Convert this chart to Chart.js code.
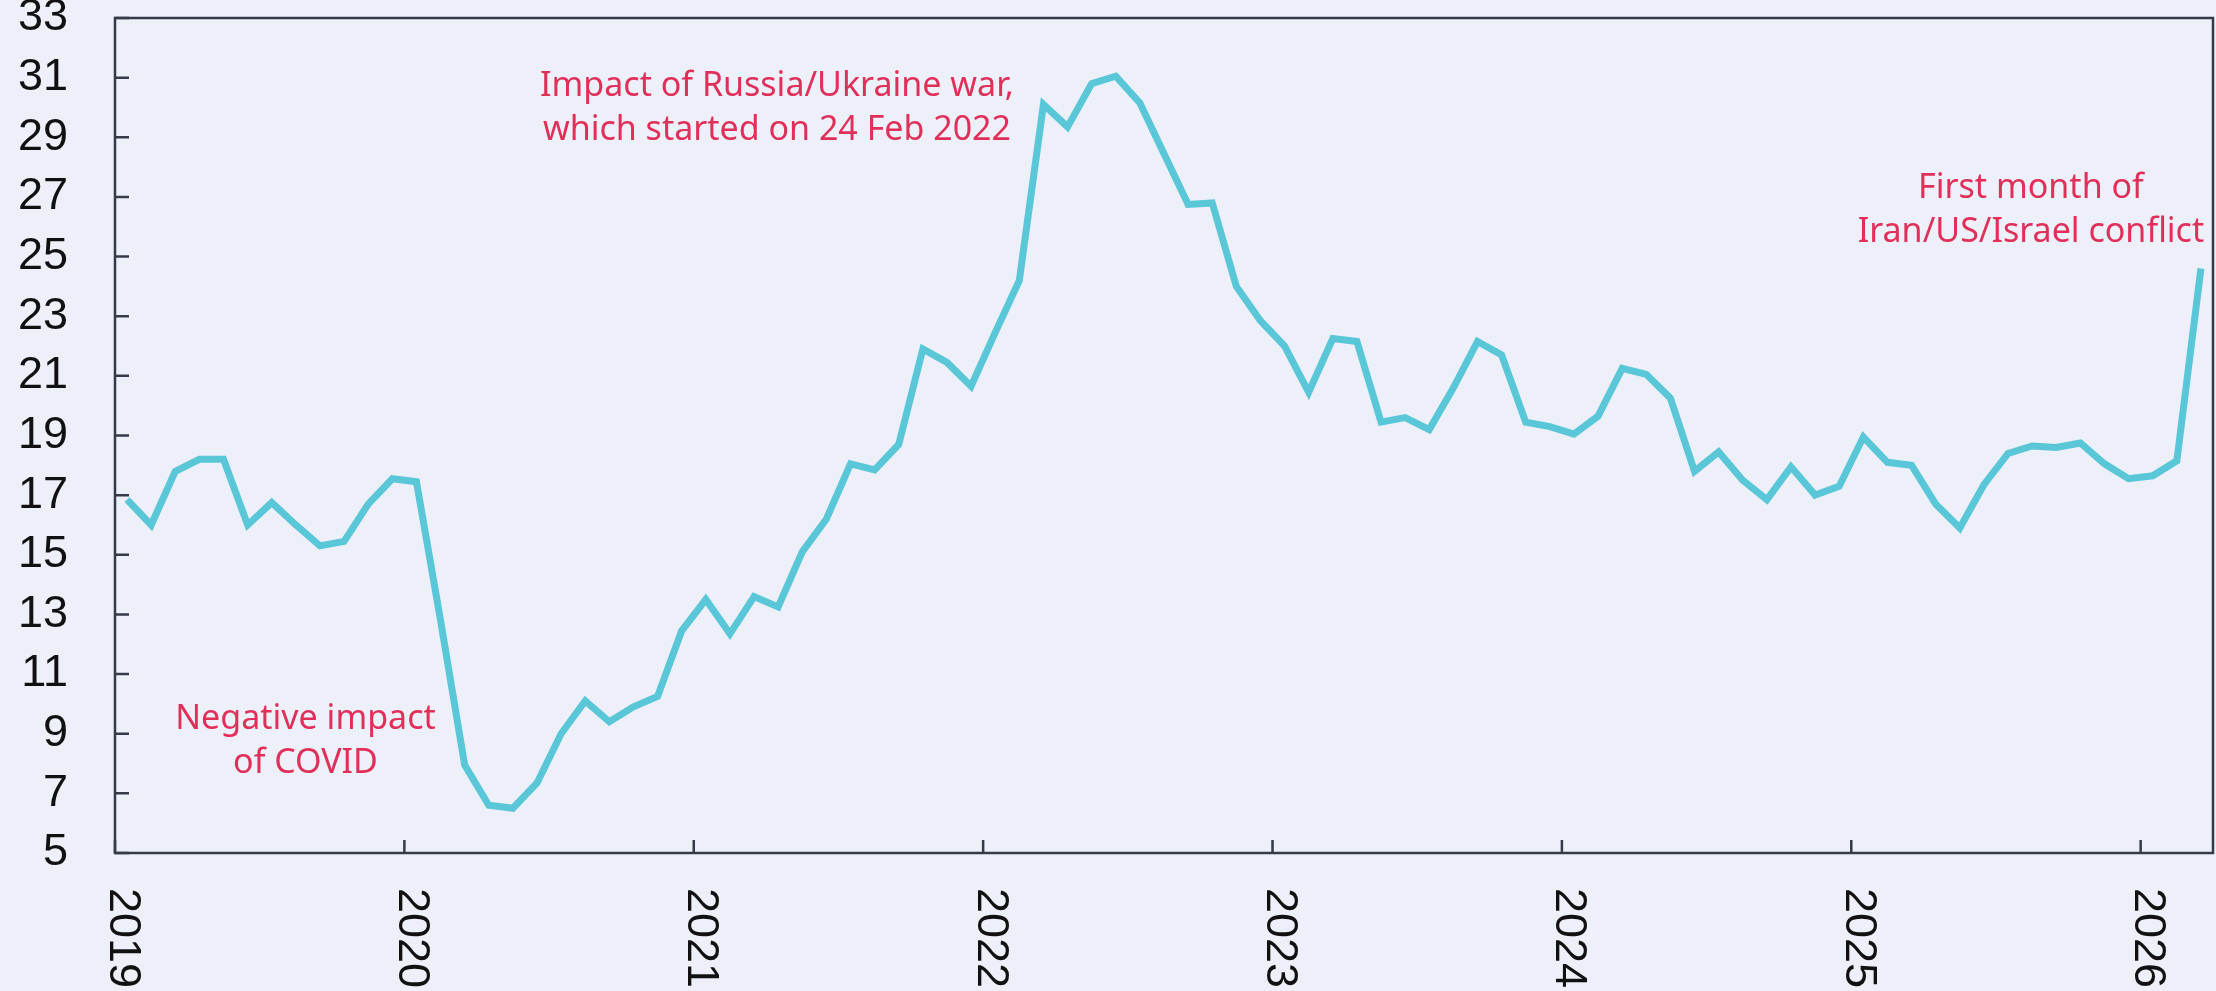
<!DOCTYPE html>
<html lang="en">
<head>
<meta charset="utf-8">
<title>Monthly index, 2019-2026</title>
<script src="https://cdn.jsdelivr.net/npm/chart.js@4.4.1/dist/chart.umd.min.js"></script>
<style>
  html, body { margin: 0; padding: 0; background: #edf0f9; }
  #wrap { width: 2216px; height: 991px; position: relative; }
</style>
</head>
<body>
<div id="wrap"><canvas id="chart"></canvas></div>
<script>
// Monthly values, one array per year
const values2019 = [16.85, 16.0, 17.8, 18.2, 18.2, 16.0, 16.75, 16.0, 15.3, 15.45, 16.7, 17.55];
const values2020 = [17.45, 12.8, 7.95, 6.6, 6.5, 7.35, 9.0, 10.1, 9.4, 9.9, 10.25, 12.45];
const values2021 = [13.5, 12.35, 13.6, 13.25, 15.1, 16.2, 18.05, 17.85, 18.7, 21.9, 21.45, 20.65];
const values2022 = [22.45, 24.2, 30.1, 29.35, 30.8, 31.05, 30.15, 28.45, 26.75, 26.8, 24.0, 22.85];
const values2023 = [22.0, 20.45, 22.25, 22.15, 19.45, 19.6, 19.2, 20.6, 22.15, 21.7, 19.45, 19.3];
const values2024 = [19.05, 19.65, 21.25, 21.05, 20.25, 17.8, 18.45, 17.5, 16.85, 17.95, 17.0, 17.3];
const values2025 = [18.95, 18.1, 18.0, 16.7, 15.9, 17.35, 18.4, 18.65, 18.6, 18.75, 18.05, 17.55];
const values2026 = [17.65, 18.15, 24.6];

const yearLabels = ['2019', '2020', '2021', '2022', '2023', '2024', '2025', '2026'];
const monthNames = ['Jan', 'Feb', 'Mar', 'Apr', 'May', 'Jun', 'Jul', 'Aug', 'Sep', 'Oct', 'Nov', 'Dec'];
const yMin = 5;
const yMax = 33;
const yStep = 2;

const seriesValues = [].concat(values2019, values2020, values2021, values2022,
  values2023, values2024, values2025, values2026);
const categories = seriesValues.map((v, i) => monthNames[i % 12] + ' ' + yearLabels[Math.floor(i / 12)]);

// Text notes, placed in data units (category index, value of first baseline)
const notes = [
  { lines: ['Impact of Russia/Ukraine war,', 'which started on 24 Feb 2022'], at: 26.95, value: 30.4 },
  { lines: ['First month of', 'Iran/US/Israel conflict'], at: 78.95, value: 26.95 },
  { lines: ['Negative impact', 'of COVID'], at: 7.4, value: 9.15 }
];

const AXIS_COLOR = '#343a48';
const LINE_COLOR = '#59c7d7';
const NOTE_COLOR = '#e0305a';
const LABEL_FONT = '"Liberation Sans", Arial, sans-serif';

// Box frame, inward tick marks, rotated year labels and the notes
const framePlugin = {
  id: 'frame',
  afterDraw(chart) {
    const { ctx, chartArea: a, scales: { x, y } } = chart;
    ctx.save();
    ctx.strokeStyle = AXIS_COLOR;
    ctx.lineWidth = 2.5;
    ctx.strokeRect(a.left, a.top, a.right - a.left, a.bottom - a.top);

    ctx.beginPath();
    y.ticks.forEach((t) => {
      const py = y.getPixelForValue(t.value);
      ctx.moveTo(a.left, py);
      ctx.lineTo(a.left + 14, py);
    });
    yearLabels.forEach((lab, k) => {
      const px = x.getPixelForValue(k * 12 - 0.5);
      ctx.moveTo(px, a.bottom);
      ctx.lineTo(px, a.bottom - 13);
    });
    ctx.stroke();

    ctx.fillStyle = '#111111';
    ctx.font = '45px ' + LABEL_FONT;
    ctx.textAlign = 'left';
    ctx.textBaseline = 'middle';
    yearLabels.forEach((lab, k) => {
      const px = x.getPixelForValue(k * 12 - 0.5);
      ctx.save();
      ctx.translate(px + 7, a.bottom + 35);
      ctx.rotate(Math.PI / 2);
      ctx.fillText(lab, 0, 0);
      ctx.restore();
    });

    ctx.fillStyle = NOTE_COLOR;
    ctx.font = '34px "Noto Sans", sans-serif';
    ctx.textAlign = 'center';
    ctx.textBaseline = 'alphabetic';
    notes.forEach((n) => {
      const px = x.getPixelForValue(n.at);
      const py = y.getPixelForValue(n.value);
      n.lines.forEach((line, i) => ctx.fillText(line, px, py + i * 44));
    });
    ctx.restore();
  }
};

new Chart(document.getElementById('chart'), {
  type: 'line',
  data: {
    labels: categories,
    datasets: [{
      data: seriesValues,
      borderColor: LINE_COLOR,
      borderWidth: 7,
      pointRadius: 0,
      tension: 0,
      fill: false
    }]
  },
  options: {
    responsive: true,
    maintainAspectRatio: false,
    animation: false,
    layout: { padding: { top: 18, right: 3, bottom: 0, left: 0 } },
    plugins: {
      legend: { display: false },
      tooltip: { enabled: false }
    },
    scales: {
      x: {
        type: 'category',
        offset: true,
        ticks: { display: false },
        grid: { display: false, drawTicks: false },
        border: { display: false },
        afterFit: (s) => { s.height = 138; }
      },
      y: {
        min: yMin,
        max: yMax,
        ticks: {
          stepSize: yStep,
          padding: 0,
          color: '#111111',
          font: { family: LABEL_FONT, size: 45, lineHeight: 0.78 }
        },
        // tick marks are drawn inward by the plugin; this length only sets the label gap
        grid: { display: false, drawTicks: true, tickLength: 47 },
        border: { display: false },
        afterFit: (s) => { s.width = 115; }
      }
    }
  },
  plugins: [framePlugin]
});
</script>
</body>
</html>
